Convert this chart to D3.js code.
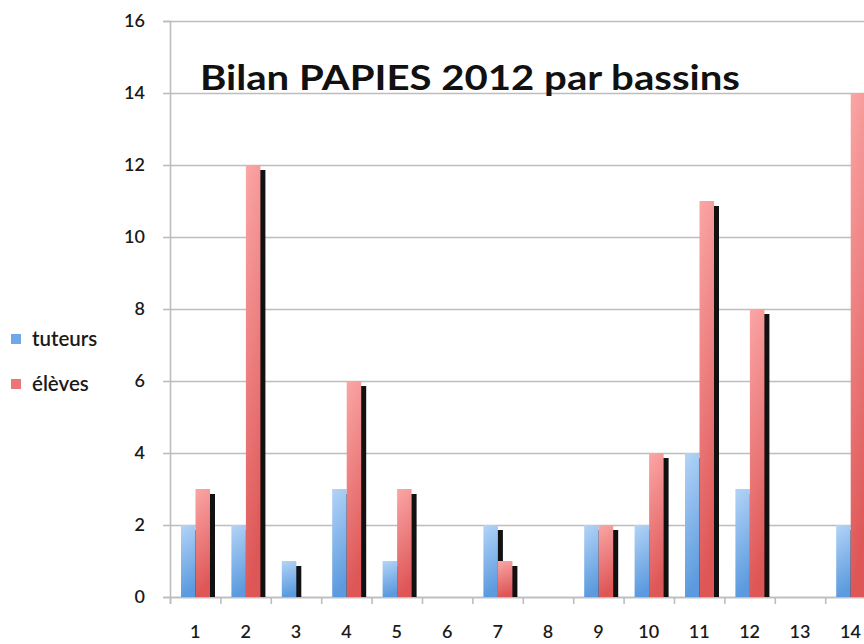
<!DOCTYPE html>
<html><head><meta charset="utf-8">
<script src="https://cdn.jsdelivr.net/npm/d3@7"></script>
<style>html,body{margin:0;padding:0;background:#fff;}svg{display:block;}</style>
</head><body>
<script>
const categories = ["1","2","3","4","5","6","7","8","9","10","11","12","13","14"];
const seriesNames = ["tuteurs","élèves"];
const tuteurs = [2,2,1,3,1,0,2,0,2,2,4,3,0,2];
const eleves  = [3,12,0,6,3,0,1,0,2,4,11,8,0,14];
const yTicks = [0,2,4,6,8,10,12,14,16];
const title = "Bilan PAPIES 2012 par bassins";

const W = 864, H = 644;
const FONT = "Lato, 'Open Sans', sans-serif";
const svg = d3.select("body").append("svg").attr("width", W).attr("height", H);
const defs = svg.append("defs");
function grad(id, c1, c2){
  const g = defs.append("linearGradient").attr("id", id).attr("x1",0).attr("y1",0).attr("x2",0.15).attr("y2",1);
  g.append("stop").attr("offset","0%").attr("stop-color", c1);
  g.append("stop").attr("offset","100%").attr("stop-color", c2);
}
grad("gBlue", "#b3d4f7", "#5b9ade");
grad("gRed", "#fba6a6", "#de5656");
const fills = ["url(#gBlue)", "url(#gRed)"];

const plotLeft = 170, plotBottom = 597, plotTop = 21;
const x0 = d3.scaleBand().domain(categories).range([plotLeft, plotLeft + 14*50.4]).padding(0);
const x1 = d3.scaleBand().domain(seriesNames).range([11, 50.4 - 10.4]).padding(0);
const y = d3.scaleLinear().domain([0, 16]).range([plotBottom, plotTop]);

// gridlines
const grid = svg.append("g").attr("transform", `translate(${plotLeft},0)`)
  .call(d3.axisLeft(y).tickValues(yTicks).tickSize(-(W - plotLeft)).tickFormat(""));
grid.select(".domain").remove();
grid.selectAll("line").attr("stroke", "#bdbdbd").attr("stroke-width", 1.6);

// y axis tick stubs + labels
const yAxis = svg.append("g").attr("transform", `translate(${plotLeft},0)`)
  .call(d3.axisLeft(y).tickValues(yTicks).tickSize(7).tickPadding(18));
yAxis.select(".domain").attr("stroke", "#bdbdbd").attr("stroke-width", 1.6);
yAxis.selectAll("line").attr("stroke", "#bdbdbd").attr("stroke-width", 1.6);
yAxis.selectAll("text").attr("font-family", FONT).attr("font-size", 18).attr("font-weight", 600).attr("fill", "#1a1a1a");

// x axis
const xTickScale = d3.scaleLinear().domain([0, 14]).range([plotLeft, plotLeft + 14*50.4]);
const xAxisTicks = svg.append("g").attr("transform", `translate(0,${plotBottom})`)
  .call(d3.axisBottom(xTickScale).tickValues(d3.range(0, 15)).tickSize(7).tickFormat(""));
xAxisTicks.select(".domain").attr("stroke", "#bdbdbd").attr("stroke-width", 1.6);
xAxisTicks.selectAll("line").attr("stroke", "#bdbdbd").attr("stroke-width", 1.6);
const xAxis = svg.append("g").attr("transform", `translate(0,${plotBottom})`)
  .call(d3.axisBottom(x0).tickSize(0).tickPadding(28));
xAxis.select(".domain").remove();
xAxis.selectAll("text").attr("font-family", FONT).attr("font-size", 18).attr("font-weight", 600).attr("fill", "#1a1a1a");

const data = categories.map((c, i) => ({cat: c, vals: [
  {s: seriesNames[0], v: tuteurs[i], k: 0},
  {s: seriesNames[1], v: eleves[i], k: 1}]}));

const groups = svg.append("g");
const off = 5;
data.forEach(d => {
  d.vals.forEach(b => {
    if (b.v <= 0) return;
    const yy = y(b.v) + off;
    groups.append("rect")
      .attr("x", x0(d.cat) + x1(b.s) + off)
      .attr("y", yy)
      .attr("width", x1.bandwidth())
      .attr("height", Math.max(0, plotBottom - yy))
      .attr("fill", "#111");
  });
});
data.forEach(d => {
  d.vals.forEach(b => {
    if (b.v <= 0) return;
    groups.append("rect")
      .attr("x", x0(d.cat) + x1(b.s))
      .attr("y", y(b.v))
      .attr("width", x1.bandwidth())
      .attr("height", plotBottom - y(b.v))
      .attr("fill", fills[b.k]);
  });
});

// title
svg.append("text").attr("x", 200).attr("y", 90)
  .attr("font-family", FONT).attr("font-weight", "bold")
  .attr("font-size", 35).attr("fill", "#111")
  .attr("textLength", 540).attr("lengthAdjust", "spacingAndGlyphs")
  .text(title);

// legend
const legendColors = ["#6ea8e6", "#ec7676"];
seriesNames.forEach((n, i) => {
  const ly = 340 + i * 45;
  svg.append("rect").attr("x", 11).attr("y", ly - 6).attr("width", 10).attr("height", 10).attr("fill", legendColors[i]);
  svg.append("text").attr("x", 32).attr("y", ly + 6)
    .attr("font-family", FONT).attr("font-size", 20.5).attr("font-weight", 600).attr("fill", "#1a1a1a")
    .text(n);
});
</script>
</body></html>
